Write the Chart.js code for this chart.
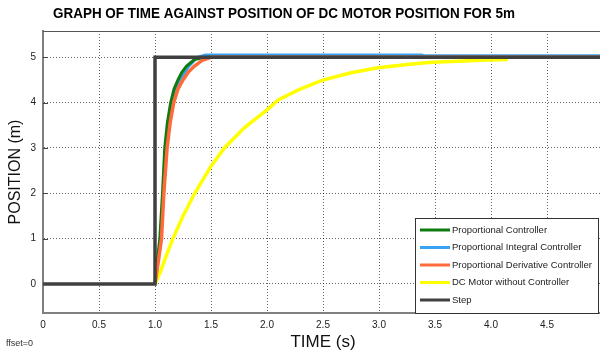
<!DOCTYPE html>
<html>
<head>
<meta charset="utf-8">
<script src="https://cdn.jsdelivr.net/npm/chart.js@4.4.1/dist/chart.umd.min.js"></script>
<style>
html, body { margin: 0; padding: 0; overflow: hidden; background: #fff; }
#wrap { width: 620px; height: 350px; }
</style>
</head>
<body>
<div id="wrap"><canvas id="mycanvas" width="620" height="350"></canvas></div>
<script>
// values
var xTicks = [0, 0.5, 1, 1.5, 2, 2.5, 3, 3.5, 4, 4.5];
var yTicks = [0, 1, 2, 3, 4, 5];

var stepTime = [0, 1, 1, 5];
var stepPos  = [0, 0, 5, 5];

var pTime = [1, 1.02, 1.043, 1.067, 1.087, 1.11, 1.14, 1.17, 1.205, 1.24, 1.28, 1.35, 1.45, 5];
var pPos  = [0, 0.5, 1.0, 2.0, 3.0, 3.55, 4.0, 4.3, 4.5, 4.67, 4.8, 4.95, 5.0, 5.0];

var piTime = [1, 1.025, 1.05, 1.074, 1.1, 1.125, 1.155, 1.19, 1.23, 1.3, 1.38, 1.45, 3.38, 3.4, 5];
var piPos  = [0, 0.5, 1.0, 2.0, 3.0, 3.55, 4.0, 4.3, 4.5, 4.8, 5.0, 5.05, 5.05, 5.035, 5.035];

var pdTime = [1, 1.03, 1.058, 1.079, 1.108, 1.135, 1.167, 1.205, 1.25, 1.3, 1.35, 1.42, 1.5, 5];
var pdPos  = [0, 0.5, 1.0, 2.0, 3.0, 3.55, 4.0, 4.3, 4.5, 4.68, 4.8, 4.93, 5.0, 5.0];

var dcTime = [1, 1.05, 1.1, 1.16, 1.25, 1.355, 1.5, 1.62, 1.8, 2.0, 2.1, 2.28, 2.49, 2.75, 2.99, 3.25, 3.47, 3.75, 3.96, 4.15];
var dcPos  = [0, 0.28, 0.62, 1.0, 1.5, 2.0, 2.6, 3.0, 3.45, 3.84, 4.06, 4.28, 4.49, 4.66, 4.77, 4.84, 4.89, 4.92, 4.94, 4.95];

function pts(xs, ys) {
    var out = [];
    for (var i in xs) {
        out.push({x: xs[i], y: ys[i]});
    }
    return out;
}

var legendOrder = ['Proportional Controller', 'Proportional Integral Controller',
    'Proportional Derivative Controller', 'DC Motor without Controller', 'Step'];

var extras = {
    id: 'extras',
    afterDraw: function(chart) {
        var ctx = chart.ctx;
        var a = chart.chartArea;
        ctx.save();
        // frame top / right
        ctx.strokeStyle = '#555';
        ctx.lineWidth = 1;
        ctx.beginPath();
        ctx.moveTo(a.left, a.top + 0.5);
        ctx.lineTo(a.right, a.top + 0.5);
        ctx.lineTo(a.right, a.bottom);
        ctx.stroke();

        // small inside tick marks on the left axis
        ctx.strokeStyle = '#444';
        ctx.lineWidth = 1;
        var ys = chart.scales.y;
        for (var t = 0; t < yTicks.length; t++) {
            var py = Math.round(ys.getPixelForValue(yTicks[t])) + 0.5;
            ctx.beginPath();
            ctx.moveTo(a.left, py);
            ctx.lineTo(a.left + 5, py);
            ctx.stroke();
        }

        // title, squeezed a little like the original
        var title = 'GRAPH OF TIME AGAINST POSITION OF DC MOTOR POSITION FOR 5m';
        ctx.fillStyle = '#000';
        ctx.font = 'bold 15px "Liberation Sans", Arial, sans-serif';
        ctx.textAlign = 'center';
        ctx.textBaseline = 'middle';
        var w = ctx.measureText(title).width;
        ctx.save();
        ctx.translate(284, 14);
        ctx.scale(462 / w, 1);
        ctx.fillText(title, 0, 0);
        ctx.restore();

        // legend box
        var bx = 415, by = 218, bw = 183, bh = a.bottom - 218;
        ctx.fillStyle = '#fff';
        ctx.fillRect(bx, by, bw, bh);
        ctx.strokeStyle = '#333';
        ctx.strokeRect(bx + 0.5, by + 0.5, bw, bh);
        ctx.font = '9.5px "Liberation Sans", Arial, sans-serif';
        ctx.textAlign = 'left';
        for (var k = 0; k < legendOrder.length; k++) {
            var ds = chart.data.datasets.filter(function(d) { return d.label === legendOrder[k]; })[0];
            var ly = 230 + k * 17.5;
            ctx.strokeStyle = ds.borderColor;
            ctx.lineWidth = 3;
            ctx.beginPath();
            ctx.moveTo(bx + 5, ly);
            ctx.lineTo(bx + 35, ly);
            ctx.stroke();
            ctx.fillStyle = '#222';
            ctx.fillText(ds.label, bx + 37, ly);
        }

        ctx.fillStyle = '#333';
        ctx.font = '9px "Liberation Sans", Arial, sans-serif';
        ctx.fillText('ffset=0', 6, 344);
        ctx.restore();
    }
};

var chartdata = {
    datasets: [
        {
            label: 'Step',
            data: pts(stepTime, stepPos),
            borderColor: '#404040',
            borderWidth: 3.5,
            order: 0
        },
        {
            label: 'Proportional Derivative Controller',
            data: pts(pdTime, pdPos),
            borderColor: '#ff6a3a',
            borderWidth: 3.5,
            order: 1
        },
        {
            label: 'Proportional Controller',
            data: pts(pTime, pPos),
            borderColor: '#0f7a0f',
            borderWidth: 3,
            order: 2
        },
        {
            label: 'Proportional Integral Controller',
            data: pts(piTime, piPos),
            borderColor: '#3aa2f2',
            borderWidth: 3,
            order: 3
        },
        {
            label: 'DC Motor without Controller',
            data: pts(dcTime, dcPos),
            borderColor: '#ffff00',
            borderWidth: 3.5,
            order: 4
        }
    ]
};

var tickFont = {family: '"Liberation Sans", Arial, sans-serif', size: 10};

var ctx = document.getElementById('mycanvas');
var lineGraph = new Chart(ctx, {
    type: 'line',
    data: chartdata,
    plugins: [extras],
    options: {
        responsive: false,
        animation: false,
        events: [],
        layout: { padding: { top: 31, right: 17, left: 0, bottom: 0 } },
        elements: {
            point: { radius: 0 },
            line: { tension: 0, fill: false, borderCapStyle: 'butt' }
        },
        plugins: {
            legend: { display: false },
            title: { display: false },
            tooltip: { enabled: false }
        },
        scales: {
            x: {
                type: 'linear',
                min: 0,
                max: 5,
                afterBuildTicks: function(scale) {
                    scale.ticks = xTicks.map(function(v) { return {value: v}; });
                },
                afterFit: function(scale) { scale.height = 37; },
                grid: { color: 'rgba(0,0,0,0.6)', drawTicks: false },
                border: { display: true, color: '#808080', width: 2, dash: [1, 2] },
                ticks: { color: '#222', font: tickFont, padding: 6, maxRotation: 0 },
                title: {
                    display: true,
                    text: 'TIME (s)',
                    color: '#111',
                    font: {family: '"Liberation Sans", Arial, sans-serif', size: 17, lineHeight: 0.9},
                    padding: {top: 0, bottom: 0}
                }
            },
            y: {
                type: 'linear',
                min: -0.64,
                max: 5.58,
                afterBuildTicks: function(scale) {
                    scale.ticks = yTicks.map(function(v) { return {value: v}; });
                },
                afterFit: function(scale) { scale.width = 43; },
                grid: { color: 'rgba(0,0,0,0.6)', drawTicks: false },
                border: { display: true, color: '#808080', width: 2, dash: [1, 2] },
                ticks: { color: '#222', font: tickFont, padding: 7 },
                title: {
                    display: true,
                    text: 'POSITION (m)',
                    color: '#111',
                    font: {family: '"Liberation Sans", Arial, sans-serif', size: 16},
                    padding: {top: 6, bottom: 0}
                }
            }
        }
    }
});
</script>
</body>
</html>
